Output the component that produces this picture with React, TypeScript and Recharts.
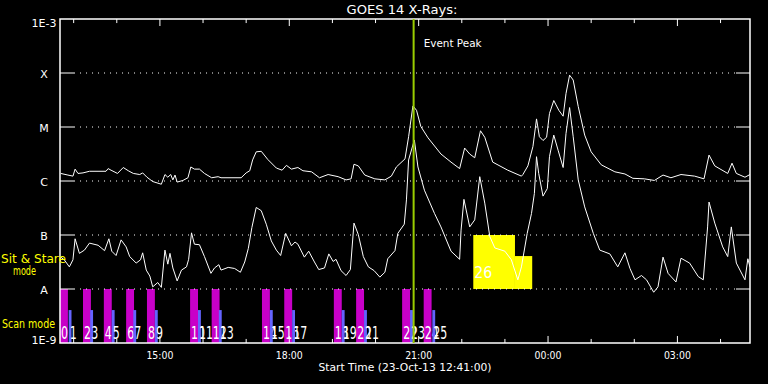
import React from 'react';
import { ComposedChart, Line, XAxis, YAxis, ReferenceArea, ReferenceLine } from 'recharts';

// minutes since 12:41 UT, log10 of flux (W/m^2)
const longChannel: [number, number][] = [
  [1, -5.86], [11, -5.89], [18, -5.91], [21, -5.78], [25, -5.86], [32, -5.85], [41, -5.82],
  [64, -5.82], [67, -5.77], [71, -5.8], [80, -5.86], [88, -5.75], [95, -5.81], [102, -5.86],
  [111, -5.88], [115, -5.85], [121, -5.93], [129, -6.01], [141, -6.06], [146, -5.88],
  [150, -5.93], [154, -5.88], [157, -5.98], [160, -5.89], [163, -6.02], [171, -5.99],
  [178, -5.94], [182, -5.74], [187, -5.78], [194, -5.78], [201, -5.86], [211, -5.94],
  [220, -5.92], [224, -5.94], [252, -5.94], [259, -5.85], [264, -5.81], [268, -5.61],
  [273, -5.46], [280, -5.45], [289, -5.6], [301, -5.76], [309, -5.8], [315, -5.71],
  [322, -5.78], [331, -5.75], [338, -5.81], [350, -5.83], [361, -5.94], [373, -5.88],
  [387, -5.92], [398, -5.98], [405, -5.96], [409, -5.69], [415, -5.72], [424, -5.89],
  [438, -5.96], [452, -5.98], [461, -5.91], [468, -5.74], [480, -5.59], [485, -5.18],
  [491, -4.61], [496, -4.69], [502, -4.99], [512, -5.2], [530, -5.5], [544, -5.65],
  [556, -5.77], [563, -5.39], [570, -5.5], [577, -5.57], [585, -5.07], [591, -5.19],
  [602, -5.65], [623, -5.8], [642, -5.91], [644, -5.88], [651, -5.72], [658, -5.36],
  [663, -4.85], [667, -5.18], [672, -5.25], [677, -5.19], [681, -4.75], [687, -4.51],
  [694, -4.69], [700, -4.8], [704, -4.38], [709, -4.04], [714, -4.13], [721, -4.62],
  [730, -5.15], [739, -5.46], [753, -5.7], [772, -5.83], [786, -5.87], [797, -5.95],
  [813, -5.96], [827, -5.99], [839, -5.89], [850, -5.94], [864, -5.88], [883, -5.91],
  [896, -5.96], [903, -5.52], [911, -5.72], [929, -5.86], [935, -5.67], [941, -5.86],
  [953, -5.93], [960, -5.88],
];

const shortChannel: [number, number][] = [
  [1, -7.41], [6, -7.46], [13, -7.59], [18, -7.46], [21, -7.07], [27, -7.34], [34, -7.28],
  [41, -7.15], [53, -7.19], [62, -7.29], [68, -7.07], [72, -7.3], [78, -7.38], [85, -7.09],
  [92, -7.22], [97, -7.4], [106, -7.52], [112, -7.46], [115, -7.33], [120, -7.65],
  [125, -7.76], [129, -7.96], [136, -7.88], [141, -7.97], [146, -7.28], [150, -7.54],
  [153, -7.34], [157, -7.61], [163, -7.85], [169, -7.65], [176, -7.59], [179, -7.45],
  [183, -6.96], [187, -7.17], [194, -7.18], [201, -7.4], [210, -7.71], [215, -7.61],
  [221, -7.55], [224, -7.65], [234, -7.6], [243, -7.62], [251, -7.69], [257, -7.5],
  [262, -7.25], [267, -6.86], [273, -6.49], [280, -6.55], [287, -6.8], [294, -7.11],
  [301, -7.28], [307, -7.38], [314, -6.97], [322, -7.2], [327, -7.13], [331, -7.17],
  [340, -7.41], [346, -7.3], [354, -7.5], [360, -7.64], [368, -7.61], [374, -7.35],
  [380, -7.49], [384, -7.45], [391, -7.66], [398, -7.75], [404, -7.64], [409, -6.78],
  [415, -6.99], [422, -7.4], [429, -7.59], [437, -7.66], [445, -7.78], [452, -7.69],
  [456, -7.44], [466, -7.29], [470, -6.97], [479, -6.8], [482, -6.35], [485, -5.61],
  [493, -5.24], [498, -5.74], [507, -6.17], [521, -6.6], [530, -6.85], [544, -7.3],
  [556, -7.45], [558, -6.91], [562, -6.34], [570, -6.85], [577, -6.72], [584, -5.92],
  [591, -6.41], [598, -7.03], [605, -7.24], [619, -7.3], [628, -7.46], [637, -7.83],
  [642, -7.59], [650, -6.97], [656, -6.6], [660, -6.23], [663, -5.55], [666, -5.86],
  [672, -6.28], [678, -6.14], [681, -5.55], [687, -5.15], [693, -5.43], [700, -5.75],
  [704, -5.12], [709, -4.64], [714, -5.18], [721, -5.98], [730, -6.48], [742, -6.97],
  [751, -7.28], [765, -7.35], [776, -7.59], [786, -7.33], [793, -7.62], [800, -7.83],
  [809, -7.75], [816, -7.83], [826, -8.06], [832, -7.96], [839, -7.41], [846, -7.71],
  [857, -7.87], [864, -7.43], [876, -7.52], [888, -7.77], [895, -7.83], [901, -6.85],
  [903, -6.39], [911, -6.78], [922, -7.22], [929, -7.4], [934, -6.85], [941, -7.52],
  [953, -7.83], [957, -7.44], [960, -7.59],
];

const hourTicks = [19, 79, 139, 199, 259, 319, 379, 439, 499, 559, 619, 679, 739, 799, 859, 919];
const labelTicks = [139, 319, 499, 679, 859];
const labelTickText = ['15:00', '18:00', '21:00', '00:00', '03:00'];

const decadeLevels = [-9, -8, -7, -6, -5, -4, -3];
const decadeNames = ['1E-9', 'A', 'B', 'C', 'M', 'X', '1E-3'];

// scan mode images: wide (magenta) and narrow (blue) exposures
const wideScanStart = [0, 32, 61, 92, 121, 181, 211, 281, 312, 381, 412, 476, 506];
const wideScanLabel = ['0', '2', '4', '6', '8', '10', '12', '14', '16', '18', '20', '22', '24'];
const narrowScanStart = [12, 42, 72, 102, 132, 192, 221, 292, 323, 392, 423, 487, 518];
const narrowScanLabel = ['1', '3', '5', '7', '9', '11', '13', '15', '17', '19', '21', '23', '25'];

// sit & stare blocks: [start, end, top level]
const stareBlocks: [number, number, number][] = [
  [575, 633, -7],
  [633, 657, -7.39],
];
const stareLabel = '26';

const eventPeakMin = 492;

const WIDE_MIN = 11;
const NARROW_MIN = 4;
const NARROW_TOP = -8.39;
const MINOR_TICK = 0.075;
const MAJOR_TICK = 0.13;
const SIDE_TICK_MIN = 19.5;

const FONT = '"DejaVu Sans", sans-serif';

const longData = longChannel.map(([t, v]) => ({ t, flux: v }));
const shortData = shortChannel.map(([t, v]) => ({ t, flux: v }));

const XTick = ({ x, payload }: any) => {
  const i = labelTicks.indexOf(payload.value);
  return (
    <text x={x} y={359} textAnchor="middle" fill="#fff" fontSize={11} fontFamily={FONT}
      textLength={27} lengthAdjust="spacingAndGlyphs">
      {labelTickText[i]}
    </text>
  );
};

const YTick = ({ y, payload }: any) => {
  const i = decadeLevels.indexOf(payload.value);
  const dy = i === 6 ? 8 : i === 0 ? 1 : 4.5;
  return (
    <text x={44} y={y + dy} textAnchor="middle" fill="#fff" fontSize={11} fontFamily={FONT}>
      {decadeNames[i]}
    </text>
  );
};

const scanLabel = (text: string) => (props: any) => {
  const vb = props.viewBox || {};
  return (
    <text x={vb.x + 1} y={339} fill="#fff" fontSize={17} fontFamily={FONT}
      textLength={7 * text.length} lengthAdjust="spacingAndGlyphs">
      {text}
    </text>
  );
};

const stareText = (props: any) => {
  const vb = props.viewBox || {};
  return (
    <text x={vb.x + 1} y={277.5} fill="#fff" fontSize={15} fontFamily={FONT}
      textLength={18} lengthAdjust="spacingAndGlyphs">
      {stareLabel}
    </text>
  );
};

const eventText = (props: any) => {
  const vb = props.viewBox || {};
  return (
    <text x={vb.x + 10} y={47} fill="#fff" fontSize={11} fontFamily={FONT}
      textLength={58} lengthAdjust="spacingAndGlyphs">
      Event Peak
    </text>
  );
};

export default function App() {
  return (
    <div style={{ position: 'fixed', left: 0, top: 0, width: 768, height: 384, background: '#000', overflow: 'hidden' }}>
      <ComposedChart width={768} height={384} margin={{ top: 19, right: 18, left: 0, bottom: 0 }}>
        <XAxis dataKey="t" type="number" domain={[0, 960]} ticks={labelTicks} allowDataOverflow
          height={41} axisLine={false} tickLine={false} tick={<XTick />} />
        <YAxis type="number" domain={[-9, -3]} ticks={decadeLevels} allowDataOverflow
          width={60} axisLine={false} tickLine={false} tick={<YTick />} />

        {stareBlocks.map(([a, b, top], i) => (
          <ReferenceArea key={`ss${i}`} x1={a} x2={b} y1={-8} y2={top} fill="#ffff00" fillOpacity={1}
            stroke="none" ifOverflow="visible" label={i === 0 ? stareText : undefined} />
        ))}

        {wideScanStart.map((s, i) => (
          <ReferenceArea key={`w${i}`} x1={s} x2={s + WIDE_MIN} y1={-9} y2={-8} fill="#c800c8"
            fillOpacity={1} stroke="none" ifOverflow="visible" label={scanLabel(wideScanLabel[i])} />
        ))}
        {narrowScanStart.map((s, i) => (
          <ReferenceArea key={`n${i}`} x1={s} x2={s + NARROW_MIN} y1={-9} y2={NARROW_TOP} fill="#6464ff"
            fillOpacity={1} stroke="none" ifOverflow="visible" label={scanLabel(narrowScanLabel[i])} />
        ))}

        {decadeLevels.slice(1, 6).map((lv) => (
          <ReferenceLine key={`g${lv}`} segment={[{ x: SIDE_TICK_MIN, y: lv }, { x: 960 - SIDE_TICK_MIN, y: lv }]}
            stroke="#fff" strokeDasharray="1 5" ifOverflow="visible" />
        ))}
        {decadeLevels.slice(1, 6).map((lv) => (
          <ReferenceLine key={`l${lv}`} segment={[{ x: 0, y: lv }, { x: SIDE_TICK_MIN, y: lv }]}
            stroke="#fff" ifOverflow="visible" />
        ))}
        {decadeLevels.slice(1, 6).map((lv) => (
          <ReferenceLine key={`r${lv}`} segment={[{ x: 960 - SIDE_TICK_MIN, y: lv }, { x: 960, y: lv }]}
            stroke="#fff" ifOverflow="visible" />
        ))}
        {hourTicks.map((h) => {
          const len = labelTicks.includes(h) ? MAJOR_TICK : MINOR_TICK;
          return (
            <ReferenceLine key={`b${h}`} segment={[{ x: h, y: -9 }, { x: h, y: -9 + len }]}
              stroke="#fff" ifOverflow="visible" />
          );
        })}
        {hourTicks.map((h) => {
          const len = labelTicks.includes(h) ? MAJOR_TICK : MINOR_TICK;
          return (
            <ReferenceLine key={`t${h}`} segment={[{ x: h, y: -3 }, { x: h, y: -3 - len }]}
              stroke="#fff" ifOverflow="visible" />
          );
        })}

        <ReferenceArea x1={0} x2={960} y1={-9} y2={-3} fill="none" stroke="#fff" strokeWidth={1.5}
          ifOverflow="visible" />

        <Line data={longData} dataKey="flux" type="linear" stroke="#fff" strokeWidth={1}
          dot={false} isAnimationActive={false} />
        <Line data={shortData} dataKey="flux" type="linear" stroke="#fff" strokeWidth={1}
          dot={false} isAnimationActive={false} />

        <ReferenceLine x={eventPeakMin} stroke="#99cc00" strokeWidth={2} ifOverflow="visible"
          label={eventText} />
      </ComposedChart>

      <svg width={768} height={384} style={{ position: 'absolute', left: 0, top: 0, pointerEvents: 'none' }}>
        <text x={402} y={14} textAnchor="middle" fill="#fff" fontSize={12} fontFamily={FONT}
          textLength={111} lengthAdjust="spacingAndGlyphs">GOES 14 X-Rays:</text>
        <text x={1} y={263} fill="#ffff00" fontSize={12} fontFamily={FONT}
          textLength={65} lengthAdjust="spacingAndGlyphs">Sit &amp; Stare</text>
        <text x={13} y={275} fill="#ffff00" fontSize={12} fontFamily={FONT}
          textLength={23} lengthAdjust="spacingAndGlyphs">mode</text>
        <text x={2} y={327.5} fill="#ffff00" fontSize={12} fontFamily={FONT}
          textLength={53} lengthAdjust="spacingAndGlyphs">Scan mode</text>
        <text x={405} y={371} textAnchor="middle" fill="#fff" fontSize={11} fontFamily={FONT}
          textLength={173} lengthAdjust="spacingAndGlyphs">Start Time (23-Oct-13 12:41:00)</text>
      </svg>
    </div>
  );
}
